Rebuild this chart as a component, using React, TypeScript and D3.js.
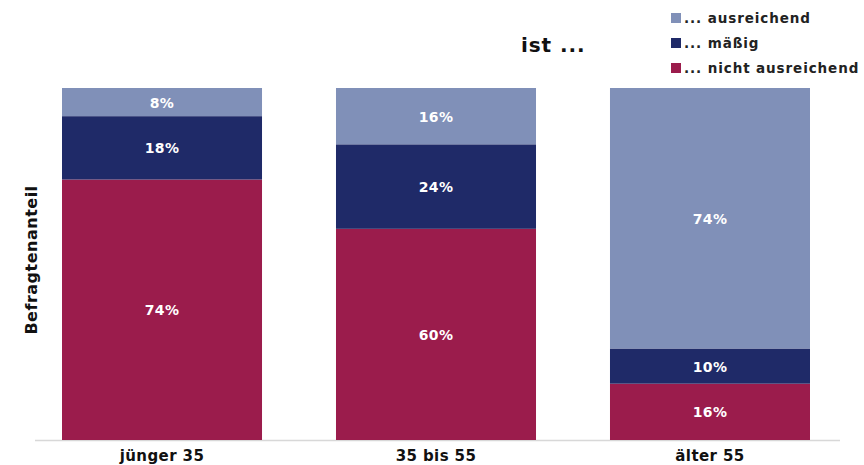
import React from "react";
import * as d3 from "d3";

const categories = ["jünger 35", "35 bis 55", "älter 55"];
const seriesNames = ["... nicht ausreichend", "... mäßig", "... ausreichend"];
const nichtAusreichend = [74, 60, 16];
const maessig = [18, 24, 10];
const ausreichend = [8, 16, 74];
const colors = ["#9b1c4c", "#1f2a68", "#8090b8"];

const W = 864;
const H = 465;
const FONT = "'DejaVu Sans', 'Liberation Sans', sans-serif";

export default function App() {
  const rows = categories.map((c, i) => ({
    cat: c,
    s0: nichtAusreichend[i],
    s1: maessig[i],
    s2: ausreichend[i],
  }));
  const stack = d3.stack<any>().keys(["s0", "s1", "s2"])(rows);

  const x = d3.scaleBand().domain(categories).range([22, 850]).paddingInner(0.27).paddingOuter(0.146);
  const y = d3.scaleLinear().domain([0, 100]).range([440, 88]);

  const legendOrder = [2, 1, 0];

  return (
    <svg width={W} height={H} style={{ position: "absolute", left: 0, top: 0, background: "#fff" }}>
      <text x={521} y={52} fontFamily={FONT} fontWeight="bold" fontSize={20} letterSpacing={0.9} fill="#111">
        ist ...
      </text>

      {/* legend */}
      {legendOrder.map((si, k) => (
        <g key={si} transform={`translate(671, ${13 + k * 25})`}>
          <rect width={10} height={10} fill={colors[si]} />
          <text x={13} y={10} fontFamily={FONT} fontWeight="bold" fontSize={13.5} letterSpacing={0.9} fill="#222">
            {seriesNames[si]}
          </text>
        </g>
      ))}

      {/* baseline */}
      <line x1={35} x2={840} y1={440.5} y2={440.5} stroke="#d8d8d8" strokeWidth={1.5} />

      {/* stacked bars */}
      {stack.map((layer, li) => (
        <g key={li}>
          {layer.map((d, i) => {
            const x0 = x(categories[i])!;
            const y0 = y(d[1]);
            const h = y(d[0]) - y(d[1]);
            return (
              <g key={i}>
                <rect x={x0} y={y0} width={x.bandwidth()} height={h} fill={colors[li]} />
                <text
                  x={x0 + x.bandwidth() / 2}
                  y={y0 + h / 2 + 5.5}
                  textAnchor="middle"
                  fontFamily={FONT}
                  fontWeight="bold"
                  fontSize={14}
                  letterSpacing={0.4}
                  fill="#fff"
                >
                  {`${d[1] - d[0]}%`}
                </text>
              </g>
            );
          })}
        </g>
      ))}

      {/* category labels */}
      {categories.map((c) => (
        <text
          key={c}
          x={x(c)! + x.bandwidth() / 2}
          y={461}
          textAnchor="middle"
          fontFamily={FONT}
          fontWeight="bold"
          fontSize={15}
          letterSpacing={0.4}
          fill="#111"
        >
          {c}
        </text>
      ))}

      {/* y-axis title */}
      <text
        transform="translate(37, 260) rotate(-90)"
        textAnchor="middle"
        fontFamily={FONT}
        fontWeight="bold"
        fontSize={16}
        letterSpacing={0.5}
        fill="#111"
      >
        Befragtenanteil
      </text>
    </svg>
  );
}
